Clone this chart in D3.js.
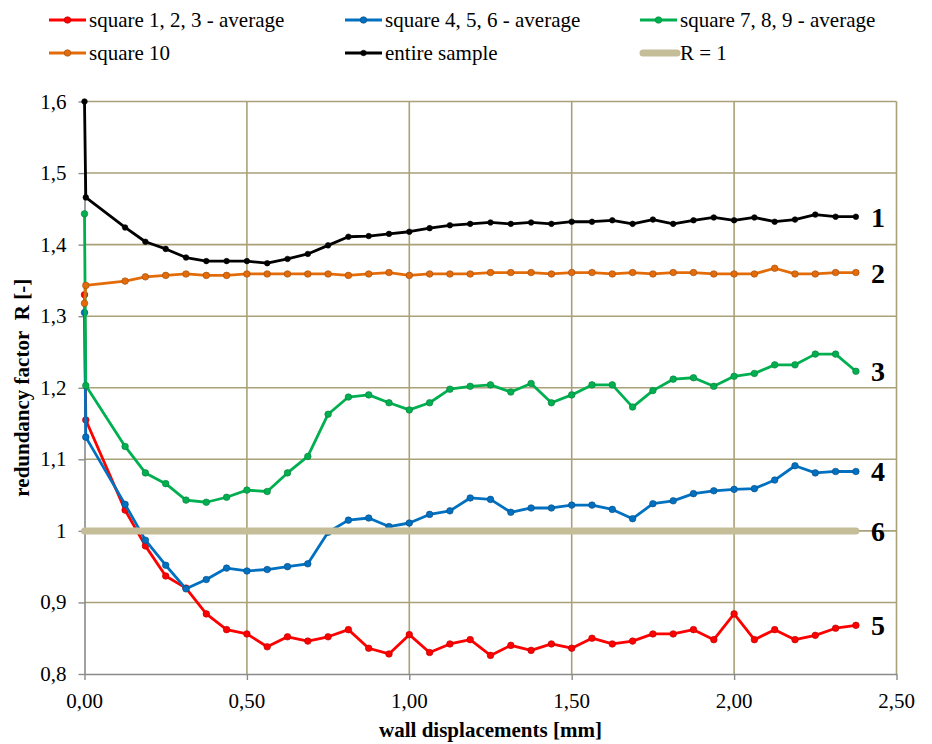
<!DOCTYPE html>
<html><head><meta charset="utf-8">
<script src="https://cdn.jsdelivr.net/npm/d3@7/dist/d3.min.js"></script>
</head><body style="margin:0">
<svg id="chart" width="932" height="744"></svg>
<script>
// ---- data ----
const xStart = [0, 0.004];
const xMain = [0.125,0.1875,0.25,0.3125,0.375,0.4375,0.5,0.5625,0.625,0.6875,0.75,0.8125,0.875,0.9375,1,1.0625,1.125,1.1875,1.25,1.3125,1.375,1.4375,1.5,1.5625,1.625,1.6875,1.75,1.8125,1.875,1.9375,2,2.0625,2.125,2.1875,2.25,2.3125,2.375];

const redStart = [1.330, 1.155];
const red = [1.029,0.979,0.937,0.920,0.884,0.862,0.856,0.838,0.852,0.846,0.852,0.862,0.836,0.828,0.855,0.830,0.842,0.848,0.826,0.840,0.833,0.842,0.836,0.850,0.842,0.846,0.856,0.856,0.862,0.848,0.884,0.848,0.862,0.848,0.854,0.864,0.868];
const blueStart = [1.305, 1.131];
const blue = [1.037,0.987,0.952,0.919,0.932,0.948,0.944,0.946,0.950,0.954,0.998,1.015,1.018,1.006,1.011,1.023,1.028,1.046,1.044,1.026,1.032,1.032,1.036,1.036,1.030,1.017,1.038,1.042,1.052,1.056,1.058,1.059,1.071,1.091,1.081,1.083,1.083];
const greenStart = [1.443, 1.203];
const green = [1.118,1.081,1.066,1.043,1.040,1.047,1.057,1.055,1.081,1.104,1.163,1.187,1.190,1.179,1.169,1.179,1.198,1.202,1.204,1.194,1.206,1.179,1.190,1.204,1.204,1.173,1.196,1.212,1.214,1.202,1.216,1.220,1.232,1.232,1.247,1.247,1.223];
const orangeStart = [1.318, 1.343];
const orange = [1.349,1.355,1.357,1.359,1.357,1.357,1.359,1.359,1.359,1.359,1.359,1.357,1.359,1.361,1.357,1.359,1.359,1.359,1.361,1.361,1.361,1.359,1.361,1.361,1.359,1.361,1.359,1.361,1.361,1.359,1.359,1.359,1.367,1.359,1.359,1.361,1.361];
const blackStart = [1.600, 1.466];
const black = [1.424,1.404,1.394,1.382,1.377,1.377,1.377,1.374,1.380,1.387,1.399,1.411,1.412,1.415,1.418,1.423,1.427,1.429,1.431,1.429,1.431,1.429,1.432,1.432,1.434,1.429,1.435,1.429,1.434,1.438,1.434,1.438,1.432,1.435,1.442,1.439,1.439];

const refLineX = [0, 2.375];
const refLineY = [1, 1];

const xTicks = [0, 0.5, 1, 1.5, 2, 2.5];
const xTickLabels = ["0,00","0,50","1,00","1,50","2,00","2,50"];
const yTicks = [0.8, 0.9, 1.0, 1.1, 1.2, 1.3, 1.4, 1.5, 1.6];
const yTickLabels = ["0,8","0,9","1","1,1","1,2","1,3","1,4","1,5","1,6"];

const seriesNames = ["square 1, 2, 3 - average","square 4, 5, 6 - average","square 7, 8, 9 - average","square 10","entire sample","R = 1"];
const curveLabels = ["1","2","3","4","5","6"];
const curveLabelValues = [1.439, 1.361, 1.223, 1.083, 0.868, 1.0];

// ---- drawing ----
const FONT = 'Liberation Serif';
const svg = d3.select("#chart");
const x = d3.scaleLinear().domain([0, 2.5]).range([84.5, 896.5]);
const y = d3.scaleLinear().domain([0.8, 1.6]).range([674, 101.5]);
const gridColor = "#a9a178";
const axisColor = "#8a8a8a";

function addText(sel, weight) {
  return sel.append("text").attr("font-family", FONT).attr("font-weight", weight || "500");
}

// gridlines
const g = svg.append("g");
g.selectAll("line.hg").data(yTicks.slice(1)).join("line")
  .attr("x1", x(0)).attr("x2", x(2.5)).attr("y1", d=>y(d)).attr("y2", d=>y(d))
  .attr("stroke", gridColor).attr("stroke-width", 1.6);
g.selectAll("line.vg").data(xTicks.slice(1)).join("line")
  .attr("y1", y(0.8)).attr("y2", y(1.6)).attr("x1", d=>x(d)).attr("x2", d=>x(d))
  .attr("stroke", gridColor).attr("stroke-width", 1.6);

// axes (lines & ticks by d3.axis, labels placed with the same scales)
const xAxis = d3.axisBottom(x).tickValues(xTicks).tickFormat(()=>"").tickSize(6).tickSizeOuter(0);
const yAxis = d3.axisLeft(y).tickValues(yTicks).tickFormat(()=>"").tickSize(6).tickSizeOuter(0);
const gx = svg.append("g").attr("transform", `translate(0,${y(0.8)})`).call(xAxis);
const gy = svg.append("g").attr("transform", `translate(${x(0)},0)`).call(yAxis);
[gx, gy].forEach(a => {
  a.attr("font-family", null).attr("font-size", null).attr("text-anchor", null);
  a.select(".domain").attr("stroke", axisColor).attr("stroke-width", 1.6);
  a.selectAll(".tick line").attr("stroke", axisColor).attr("stroke-width", 1.4);
  a.selectAll(".tick text").remove();
});
xTicks.forEach((v,i) => {
  addText(svg).attr("x", x(v)).attr("y", y(0.8) + 34).attr("text-anchor", "middle")
    .attr("font-size", 21).text(xTickLabels[i]);
});
yTicks.forEach((v,i) => {
  addText(svg).attr("x", x(0) - 18).attr("y", y(v) + 7).attr("text-anchor", "end")
    .attr("font-size", 21).text(yTickLabels[i]);
});

// axis titles
addText(svg, "bold").attr("x", (x(0)+x(2.5))/2).attr("y", 737).attr("text-anchor", "middle")
  .attr("font-size", 21).text("wall displacements [mm]");
addText(svg, "bold").attr("transform", `translate(29,${(y(0.8)+y(1.6))/2}) rotate(-90)`)
  .attr("text-anchor", "middle").attr("font-size", 21)
  .text("redundancy factor\u00a0 R [-]");

// series
const series = [
  {name: seriesNames[0], start: redStart, vals: red, color: "#ff0000", edge: "#b00000", r: 3.3},
  {name: seriesNames[1], start: blueStart, vals: blue, color: "#0070c0", edge: "#0a4a80", r: 3.3},
  {name: seriesNames[2], start: greenStart, vals: green, color: "#00b050", edge: "#0a7a3a", r: 3.3},
  {name: seriesNames[3], start: orangeStart, vals: orange, color: "#e36c09", edge: "#9a4a10", r: 3.3},
  {name: seriesNames[4], start: blackStart, vals: black, color: "#000000", edge: "#000000", r: 2.8},
];
const line = d3.line().x(d=>x(d[0])).y(d=>y(d[1]));
series.forEach(s => {
  const pts = xStart.map((xv,i)=>[xv, s.start[i]]).concat(xMain.map((xv,i)=>[xv, s.vals[i]]));
  const gs = svg.append("g");
  gs.append("path").datum(pts).attr("d", line).attr("fill", "none")
    .attr("stroke", s.color).attr("stroke-width", 2.8).attr("stroke-linejoin", "round");
  gs.selectAll("circle").data(pts).join("circle")
    .attr("cx", d=>x(d[0])).attr("cy", d=>y(d[1])).attr("r", s.r)
    .attr("fill", s.color).attr("stroke", s.edge).attr("stroke-width", 0.6);
});

// R = 1 line
svg.append("path").datum(refLineX.map((xv,i)=>[xv, refLineY[i]])).attr("d", line)
  .attr("stroke", "#c4bd97").attr("stroke-width", 7).attr("stroke-linecap", "round").attr("fill", "none");

// curve labels
curveLabels.forEach((t,i) => {
  addText(svg, "bold").attr("x", 871).attr("y", y(curveLabelValues[i]) + 10)
    .attr("font-size", 28).text(t);
});

// legend
const legendPos = [[49,20],[345,20],[640,20],[49,53],[345,53],[640,53]];
const legendItems = series.map(s=>({name:s.name, color:s.color, edge:s.edge, r:s.r, marker:true}))
  .concat([{name: seriesNames[5], color:"#c4bd97", marker:false}]);
legendItems.forEach((it,i) => {
  const [lx, ly] = legendPos[i];
  svg.append("line").attr("x1", it.marker ? lx : lx+3).attr("x2", lx+37).attr("y1", ly).attr("y2", ly)
    .attr("stroke", it.color).attr("stroke-width", it.marker ? 2.8 : 7).attr("stroke-linecap", it.marker ? "butt" : "round");
  if (it.marker) svg.append("circle").attr("cx", lx+18.5).attr("cy", ly).attr("r", it.r)
    .attr("fill", it.color).attr("stroke", it.edge).attr("stroke-width", 0.6);
  addText(svg).attr("x", lx+40).attr("y", ly+7).attr("font-size", 21).text(it.name);
});
</script>
</body></html>
